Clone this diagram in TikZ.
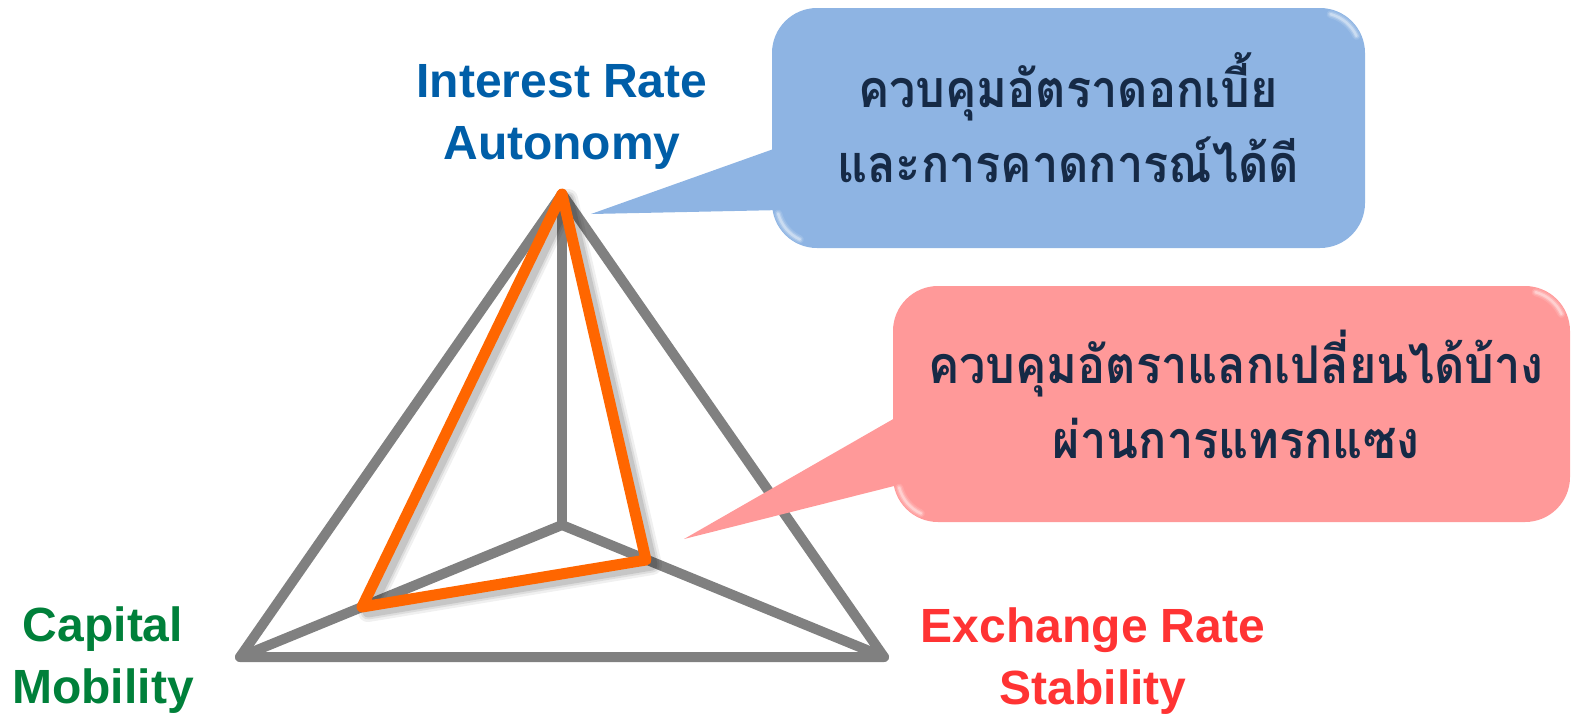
\documentclass[tikz,border=0pt]{standalone}
\usepackage{fontspec}
\setmainfont{Liberation Sans}
\newfontfamily\thaifont[Script=Thai,FakeStretch=0.9]{Loma}
\usetikzlibrary{calc}
\definecolor{edgegray}{RGB}{128,128,128}
\definecolor{pathorange}{RGB}{255,102,0}
\definecolor{irblue}{RGB}{0,94,168}
\definecolor{cmgreen}{RGB}{0,128,58}
\definecolor{exred}{RGB}{255,51,51}
\definecolor{calloutblue}{RGB}{142,180,227}
\definecolor{calloutred}{RGB}{255,153,153}
\definecolor{navytext}{RGB}{22,42,70}
\begin{document}
\begin{tikzpicture}[x=1pt,y=-1pt,
  edge/.style={draw=edgegray,line width=10pt,line cap=round,line join=round},
  route/.style={draw=pathorange,line width=11pt,line join=round,line cap=butt},
  routeshadow/.style={draw=black,line join=round,line cap=round},
  corner/.style={font=\bfseries\fontsize{48}{62}\selectfont,align=center,inner sep=0pt},
  bubble/.style={rounded corners=45pt,inner sep=0pt},
  bubbletext/.style={inner sep=0pt,align=center,text=navytext,
    font=\thaifont\bfseries\fontsize{52}{75}\selectfont},
  gleam/.style={draw=white,line cap=round},
]
\useasboundingbox (0,0) rectangle (1576,716);

% pyramid vertices and the highlighted route
\coordinate (A) at (562,194);
\coordinate (L) at (240,657);
\coordinate (R) at (884,657);
\coordinate (C) at (562,525);
\coordinate (P) at (362,607);
\coordinate (Q) at (646,560);

% wireframe
\draw[edge] (A) -- (L) -- (R) -- cycle;
\draw[edge] (A) -- (C);
\draw[edge] (L) -- (C) -- (R);

% soft shadow under the route
\foreach \w/\o in {20/0.06,15/0.08,11/0.10}{
  \draw[routeshadow,line width=\w pt,opacity=\o]
    ([shift={(6,5)}]A) -- ([shift={(6,5)}]P) -- ([shift={(6,5)}]Q) -- cycle;
}
% route through the trilemma
\draw[route] (A) -- (P) -- (Q) -- cycle;

% blue callout
\node[bubble,fill=calloutblue,minimum width=593pt,minimum height=240pt]
  (blue) at (1068.5,128) {};
\coordinate (btip) at (591,214);
\coordinate (bb1) at (782,146);
\coordinate (bb2) at (782,210);
\fill[calloutblue] (btip) -- (bb1) -- (bb2) -- cycle;
\foreach \w/\o in {8/0.12,5/0.2,2.5/0.35}{
  \draw[gleam,line width=\w pt,opacity=\o]
    ($(blue.south west)+(45,-45)$) ++(165:40) arc[start angle=165,end angle=115,radius=40];
  \draw[gleam,line width=\w pt,opacity=\o]
    ($(blue.north east)+(-45,45)$) ++(-75:40) arc[start angle=-75,end angle=-25,radius=40];
}
\node[bubbletext] (bluetext) at (1068,118) {ควบคุมอัตราดอกเบี้ย\\และการคาดการณ์ได้ดี};

% red callout
\node[bubble,fill=calloutred,minimum width=677pt,minimum height=236pt]
  (red) at (1231.5,404) {};
\coordinate (rtip) at (684,539);
\coordinate (rb1) at (902,414);
\coordinate (rb2) at (902,484);
\fill[calloutred] (rtip) -- (rb1) -- (rb2) -- cycle;
\foreach \w/\o in {8/0.12,5/0.2,2.5/0.35}{
  \draw[gleam,line width=\w pt,opacity=\o]
    ($(red.south west)+(45,-45)$) ++(165:40) arc[start angle=165,end angle=115,radius=40];
  \draw[gleam,line width=\w pt,opacity=\o]
    ($(red.north east)+(-45,45)$) ++(-75:40) arc[start angle=-75,end angle=-25,radius=40];
}
\node[bubbletext] (redtext) at (1236,394) {ควบคุมอัตราแลกเปลี่ยนได้บ้าง\\ผ่านการแทรกแซง};

% corner labels
\node[corner,text=irblue] (ira) at (562,117) {Interest Rate\\Autonomy};
\node[corner,text=cmgreen] (cm) at (103,660) {Capital\\Mobility};
\node[corner,text=exred] (ers) at (1093,661) {Exchange Rate\\Stability};
\end{tikzpicture}
\end{document}
